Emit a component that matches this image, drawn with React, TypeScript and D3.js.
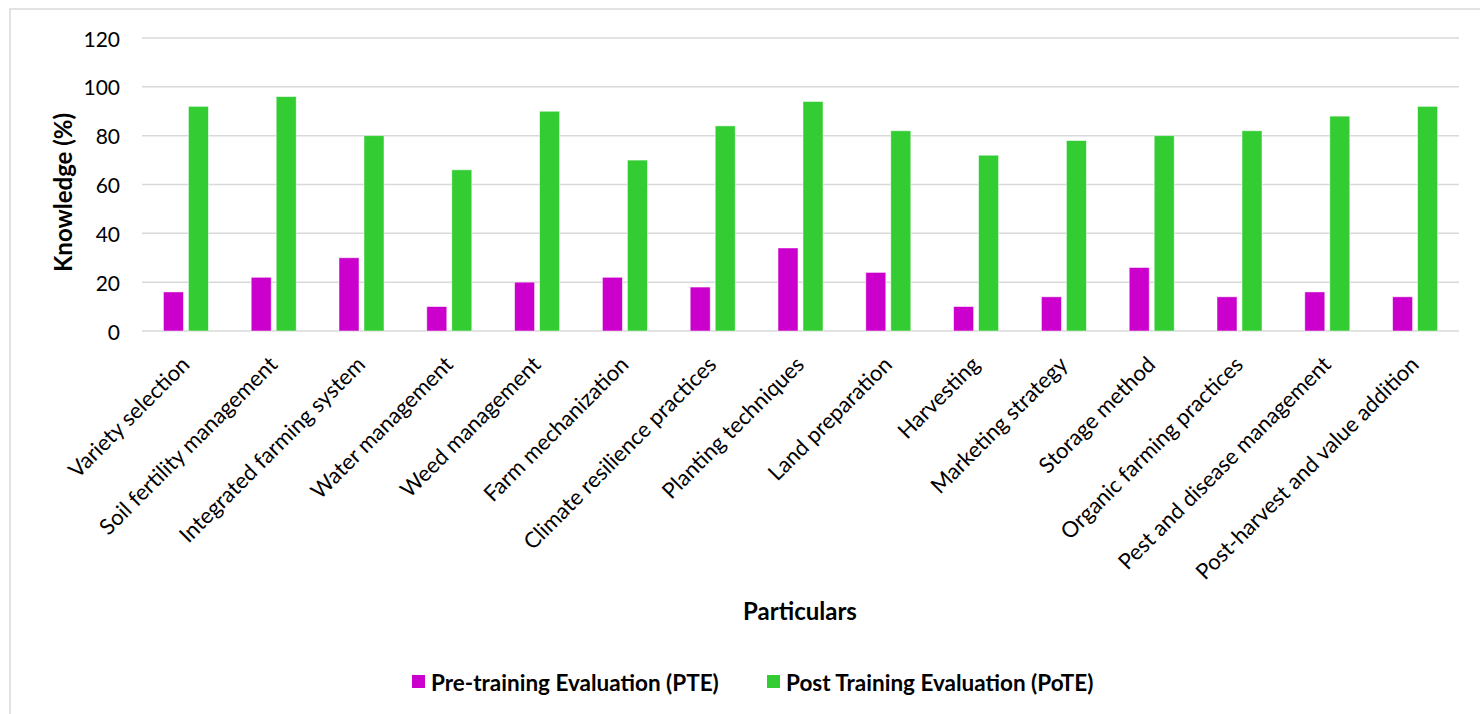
import { scaleBand, scaleLinear } from "d3";

const categories = [
  "Variety selection",
  "Soil fertility management",
  "Integrated farming system",
  "Water management",
  "Weed management",
  "Farm mechanization",
  "Climate resilience practices",
  "Planting techniques",
  "Land preparation",
  "Harvesting",
  "Marketing strategy",
  "Storage method",
  "Organic farming practices",
  "Pest and disease management",
  "Post-harvest and value addition"
];

const preTraining = [16, 22, 30, 10, 20, 22, 18, 34, 24, 10, 14, 26, 14, 16, 14];
const postTraining = [92, 96, 80, 66, 90, 70, 84, 94, 82, 72, 78, 80, 82, 88, 92];

const yTicks = [0, 20, 40, 60, 80, 100, 120];

const seriesNames = ["Pre-training Evaluation (PTE)", "Post Training Evaluation (PoTE)"];
const seriesColors = ["#cc00cc", "#33cc33"];

const width = 1480;
const height = 714;
const plotLeft = 142;
const plotRight = 1459;
const plotTop = 38;
const plotBottom = 331;
const barWidth = 20;
const barGap = 5;
const fontFamily = "Lato, 'Open Sans', sans-serif";

const legendX = [412, 767];

export default function App() {
  const xScale = scaleBand<string>()
    .domain(categories)
    .range([plotLeft, plotRight])
    .paddingInner(0)
    .paddingOuter(0);

  const yScale = scaleLinear().domain([0, 120]).range([plotBottom, plotTop]);

  const series = [preTraining, postTraining];

  return (
    <svg
      width={width}
      height={height}
      style={{ position: "absolute", left: 0, top: 0, background: "#fff" }}
      fontFamily={fontFamily}
    >
      <rect
        x={10}
        y={9}
        width={width}
        height={height}
        fill="#fff"
        stroke="#d9d9d9"
        strokeWidth={1.5}
      />
      {yTicks.map((t) => (
        <g key={`grid-${t}`}>
          <line
            x1={plotLeft}
            x2={plotRight}
            y1={yScale(t)}
            y2={yScale(t)}
            stroke="#d9d9d9"
            strokeWidth={1.5}
          />
          <text
            x={120}
            y={yScale(t)}
            textAnchor="end"
            dominantBaseline="central"
            fontSize={21}
            fill="#000"
          >
            {t}
          </text>
        </g>
      ))}
      {categories.map((cat, i) => {
        const x0 = xScale(cat) ?? 0;
        const center = x0 + xScale.bandwidth() / 2;
        return (
          <g key={cat}>
            {series.map((values, s) => {
              const bx =
                s === 0 ? center - barGap / 2 - barWidth : center + barGap / 2;
              const y = yScale(values[i]);
              return (
                <rect
                  key={`${cat}-${s}`}
                  x={bx}
                  y={y}
                  width={barWidth}
                  height={plotBottom - y}
                  fill={seriesColors[s]}
                  stroke="#fff"
                  strokeOpacity={0.6}
                  strokeWidth={0.8}
                />
              );
            })}
            <text
              transform={`translate(${center - 1}, ${plotBottom + 29}) rotate(-45)`}
              textAnchor="end"
              dominantBaseline="central"
              fontSize={22}
              fill="#000"
            >
              {cat}
            </text>
          </g>
        );
      })}
      <text
        transform={`translate(62, ${(plotTop + plotBottom) / 2 + 8}) rotate(-90)`}
        textAnchor="middle"
        dominantBaseline="central"
        fontSize={24}
        fontWeight="bold"
        fill="#000"
      >
        Knowledge (%)
      </text>
      <text
        x={800}
        y={610}
        textAnchor="middle"
        dominantBaseline="central"
        fontSize={24}
        fontWeight="bold"
        fill="#000"
      >
        Particulars
      </text>
      {seriesNames.map((name, s) => (
        <g key={name}>
          <rect x={legendX[s]} y={675} width={13} height={13} fill={seriesColors[s]} />
          <text
            x={legendX[s] + 19}
            y={682}
            dominantBaseline="central"
            fontSize={22.5}
            fontWeight="bold"
            fill="#000"
          >
            {name}
          </text>
        </g>
      ))}
    </svg>
  );
}
